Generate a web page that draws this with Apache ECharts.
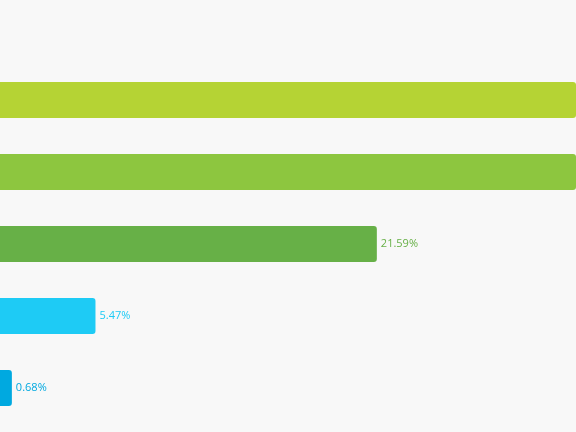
<!DOCTYPE html>
<html>
<head>
<meta charset="utf-8">
<script src="https://cdn.jsdelivr.net/npm/echarts@6/dist/echarts.min.js"></script>
<style>
  html, body { margin: 0; padding: 0; background: #f8f8f8; }
  #chart { width: 576px; height: 432px; }
</style>
</head>
<body>
<div id="chart"></div>
<script>
  // categories top to bottom; the top two bars run past the right edge
  const categories = ["A", "B", "C", "D", "E"];
  const values = [38.5, 33.76, 21.59, 5.47, 0.68];
  const colors = ["#b5d334", "#8dc63f", "#67b047", "#1ecbf5", "#00a9e0"];

  const chart = echarts.init(document.getElementById("chart"));
  chart.setOption({
    backgroundColor: "#f8f8f8",
    grid: { left: -5, right: 0, top: 64, bottom: 8, containLabel: false },
    xAxis: { type: "value", min: 0, max: 33, show: false },
    yAxis: { type: "category", data: categories, inverse: true, show: false },
    series: [{
      type: "bar",
      barCategoryGap: "50%",
      data: values.map((v, i) => ({
        value: v,
        itemStyle: { color: colors[i], borderRadius: [0, 3, 3, 0] },
        label: { color: colors[i] },
      })),
      label: {
        show: true,
        position: "right",
        distance: 4,
        fontFamily: "Open Sans",
        fontSize: 11,
        formatter: (p) => p.value.toFixed(2) + "%",
      },
    }],
  });
</script>
</body>
</html>
